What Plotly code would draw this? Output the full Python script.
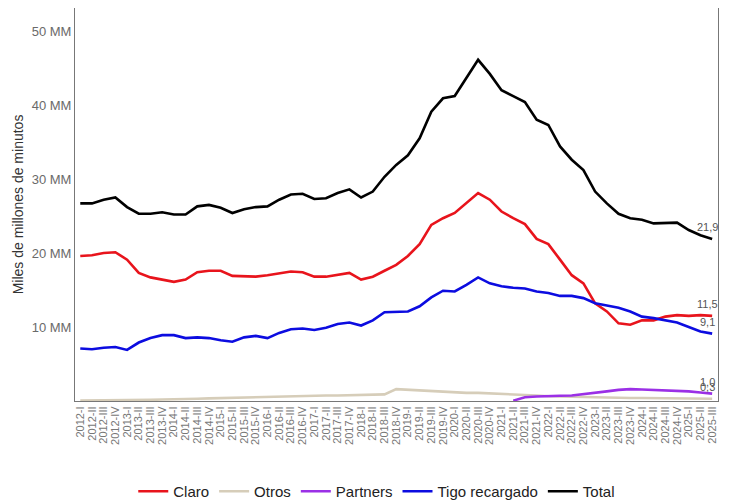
import plotly.graph_objects as go

quarters = []
for yr in range(2012, 2026):
    for q in ["I", "II", "III", "IV"]:
        if yr == 2025 and q == "IV":
            break
        quarters.append(f"{yr}-{q}")

claro = [19.6, 19.7, 20.0, 20.1, 19.1, 17.3, 16.7, 16.4, 16.1, 16.4, 17.4, 17.6, 17.6, 16.9, 16.9,
         16.8, 17.0, 17.3, 17.5, 17.4, 16.8, 16.8, 17.0, 17.3, 16.4, 16.8, 17.6, 18.4, 19.6, 21.2,
         23.8, 24.7, 25.4, 26.7, 28.1, 27.2, 25.6, 24.7, 23.9, 21.9, 21.2, 19.1, 17.0, 15.9, 13.2,
         12.1, 10.5, 10.3, 10.9, 10.9, 11.4, 11.6, 11.5, 11.6, 11.5]
otros = [0.05, 0.05, 0.05, 0.05, 0.1, 0.1, 0.15, 0.2, 0.2, 0.25, 0.3, 0.35, 0.4, 0.45, 0.5,
         0.55, 0.6, 0.6, 0.65, 0.7, 0.7, 0.75, 0.75, 0.8, 0.85, 0.85, 0.9, 1.6, 1.5, 1.4,
         1.3, 1.2, 1.15, 1.1, 1.1, 1.05, 1.0, 0.95, 0.85, 0.75, 0.65, 0.6, 0.55, 0.5, 0.5,
         0.45, 0.45, 0.4, 0.4, 0.4, 0.35, 0.35, 0.35, 0.3, 0.3]
partners = [None] * 37 + [0.05, 0.5, 0.6, 0.7, 0.7, 0.75, 0.9, 1.1, 1.3, 1.5, 1.6, 1.55, 1.5,
                          1.45, 1.4, 1.3, 1.15, 1.0]
tigo = [7.1, 7.0, 7.2, 7.3, 6.9, 7.9, 8.5, 8.9, 8.9, 8.5, 8.6, 8.5, 8.2, 8.0, 8.6,
        8.8, 8.5, 9.2, 9.7, 9.8, 9.6, 9.9, 10.4, 10.6, 10.2, 10.9, 12.0, 12.0, 12.1, 12.8,
        14.0, 14.9, 14.8, 15.7, 16.7, 15.9, 15.5, 15.3, 15.2, 14.8, 14.6, 14.2, 14.2, 13.9, 13.2,
        12.9, 12.6, 12.1, 11.4, 11.2, 10.9, 10.6, 10.0, 9.4, 9.1]
total = [26.7, 26.7, 27.2, 27.5, 26.2, 25.3, 25.3, 25.5, 25.2, 25.2, 26.3, 26.5, 26.1, 25.4, 25.9,
         26.2, 26.3, 27.2, 27.9, 28.0, 27.3, 27.4, 28.1, 28.6, 27.5, 28.3, 30.3, 31.9, 33.2, 35.5,
         39.1, 40.9, 41.2, 43.6, 46.1, 44.2, 42.0, 41.2, 40.4, 38.0, 37.3, 34.4, 32.6, 31.2, 28.3,
         26.7, 25.3, 24.7, 24.5, 24.0, 24.1, 24.1, 23.1, 22.4, 21.9]

series = [
    ("Claro", claro, "#e8141c"),
    ("Otros", otros, "#d6cdb9"),
    ("Partners", partners, "#9b30e6"),
    ("Tigo recargado", tigo, "#0c0ce0"),
    ("Total", total, "#000000"),
]

ytick_vals = [10, 20, 30, 40, 50]
ytick_text = ["10 MM", "20 MM", "30 MM", "40 MM", "50 MM"]

fig = go.Figure()
for name, vals, color in series:
    fig.add_trace(go.Scatter(x=quarters, y=vals, name=name, mode="lines",
                             line=dict(color=color, width=2.6), connectgaps=False))

def fmt(v):
    return f"{v:.1f}".replace(".", ",")

for name, vals, color in series:
    fig.add_annotation(x=quarters[-1], y=vals[-1], text=fmt(vals[-1]), showarrow=False,
                       xshift=-5, yshift=12, font=dict(size=11, color="#555555"))

fig.update_layout(
    width=739, height=502,
    margin=dict(l=67, r=29, t=0, b=109, autoexpand=False),
    paper_bgcolor="white", plot_bgcolor="white",
    font=dict(family="Liberation Sans, Arial, sans-serif", color="#333333"),
    showlegend=True,
    legend=dict(orientation="h", xref="container", yref="container", x=0.499, y=0.004,
                xanchor="center", yanchor="bottom", font=dict(size=15, color="#222222"),
                itemwidth=30),
)
fig.update_xaxes(
    type="category", tickmode="array", tickvals=quarters, ticktext=quarters,
    tickangle=-90, tickfont=dict(size=11, color="#777777"),
    showline=True, linecolor="#777777", linewidth=1, mirror=True,
    showgrid=False, ticks="", range=[-0.45, len(quarters) - 0.5], automargin=False,
)
fig.update_yaxes(
    range=[0, 53.1], tickvals=ytick_vals, ticktext=ytick_text,
    tickfont=dict(size=13, color="#6a6a6a"),
    title=dict(text="Miles de millones de minutos", font=dict(size=14, color="#333333"), standoff=4),
    showline=True, linecolor="#777777", linewidth=1, mirror=True,
    showgrid=False, zeroline=False, ticks="", automargin=False,
)

fig.write_html("out.html")
